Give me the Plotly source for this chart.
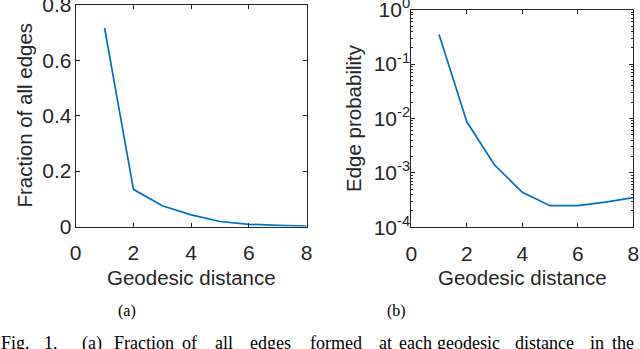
import plotly.graph_objects as go

# data
distance = [1, 2, 3, 4, 5, 6, 7, 8]
edge_fraction = [0.716, 0.134, 0.075, 0.042, 0.018, 0.008, 0.004, 0.001]
edge_prob = [0.35, 0.0087, 0.0014, 0.00044, 0.00025, 0.00025, 0.00029, 0.00035]

x_ticks = [0, 2, 4, 6, 8]
frac_ticks = [0, 0.2, 0.4, 0.6, 0.8]
frac_ticktext = ["0", "0.2", "0.4", "0.6", "0.8"]
log_tickvals = [1e-4, 1e-3, 1e-2, 1e-1, 1]
log_ticktext = ["10<sup>-4</sup>", "10<sup>-3</sup>", "10<sup>-2</sup>",
                "10<sup>-1</sup>", "10<sup>0</sup>"]

caption_words = ["Fig.", "1.", "(a)", "Fraction", "of", "all", "edges", "formed",
                 "at", "each", "geodesic", "distance", "in", "the"]
caption_x = [-1, 42, 80, 112, 180, 213, 248, 308, 377, 397, 435, 513, 588, 610]

W, H = 640, 349
LINE = "#0072BD"
AX = "#262626"
FONT = "Liberation Sans, Arial, sans-serif"
SERIF = "Liberation Serif, Times New Roman, serif"


def px(x):
    return x / W


def py(y):
    return 1 - y / H


fig = go.Figure()
fig.add_trace(go.Scatter(x=distance, y=edge_fraction, mode="lines",
                         line=dict(color=LINE, width=1.7),
                         xaxis="x", yaxis="y", showlegend=False))
fig.add_trace(go.Scatter(x=distance, y=edge_prob, mode="lines",
                         line=dict(color=LINE, width=1.7),
                         xaxis="x2", yaxis="y2", showlegend=False))

axis_common = dict(
    showline=True, linecolor=AX, linewidth=1, mirror="ticks",
    ticks="inside", ticklen=4, tickcolor=AX, tickwidth=1,
    showgrid=False, zeroline=False, ticklabeloverflow="allow",
    automargin=False,
    tickfont=dict(family=FONT, size=21, color=AX),
)

minor_vals = [k * 10 ** e for e in range(-4, 0) for k in range(2, 10)]

fig.update_layout(
    width=W, height=H,
    margin=dict(l=0, r=0, t=0, b=0, pad=0),
    paper_bgcolor="white", plot_bgcolor="white",
    xaxis=dict(domain=[px(75.7), px(306.7)], anchor="y", range=[0, 8],
               tickvals=x_ticks, ticklabelstandoff=7, **axis_common),
    yaxis=dict(domain=[py(226.5), py(4.7)], anchor="x", range=[0, 0.8],
               tickvals=frac_ticks, ticktext=frac_ticktext,
               ticklabelstandoff=-1, **axis_common),
    xaxis2=dict(domain=[px(411.3), px(633.3)], anchor="y2", range=[0, 8],
                tickvals=x_ticks, ticklabelstandoff=7, **axis_common),
    yaxis2=dict(domain=[py(227.3), py(9.7)], anchor="x2", type="log",
                range=[-4, 0], tickmode="array", tickvals=log_tickvals,
                ticktext=log_ticktext, ticklabelstandoff=-4,
                minor=dict(tickmode="array", tickvals=minor_vals,
                           ticks="inside", ticklen=2, tickcolor=AX),
                **axis_common),
)

ann = []
title_font = dict(family=FONT, size=20.5, color=AX)
ann.append(dict(text="Fraction of all edges", x=px(24), y=py(115.5),
                textangle=-90, font=title_font))
ann.append(dict(text="Edge probability", x=px(353), y=py(118),
                textangle=-90, font=title_font))
ann.append(dict(text="Geodesic distance", x=px(191), y=py(277), font=title_font))
ann.append(dict(text="Geodesic distance", x=px(522), y=py(277), font=title_font))
ann.append(dict(text="(a)", x=px(127), y=py(311),
                font=dict(family=SERIF, size=16, color="black")))
ann.append(dict(text="(b)", x=px(396), y=py(311),
                font=dict(family=SERIF, size=16, color="black")))
for word, xw in zip(caption_words, caption_x):
    ann.append(dict(text=word, x=px(xw), y=py(343), xanchor="left",
                    yanchor="middle",
                    font=dict(family=SERIF, size=18, color="black")))

for a in ann:
    a.update(xref="paper", yref="paper", showarrow=False)
    a.setdefault("xanchor", "center")
    a.setdefault("yanchor", "middle")
fig.update_layout(annotations=ann)

fig.write_html("out.html", config={"displayModeBar": False},
               post_script="document.body.style.margin='0';"
                           "document.body.style.overflow='hidden';")
